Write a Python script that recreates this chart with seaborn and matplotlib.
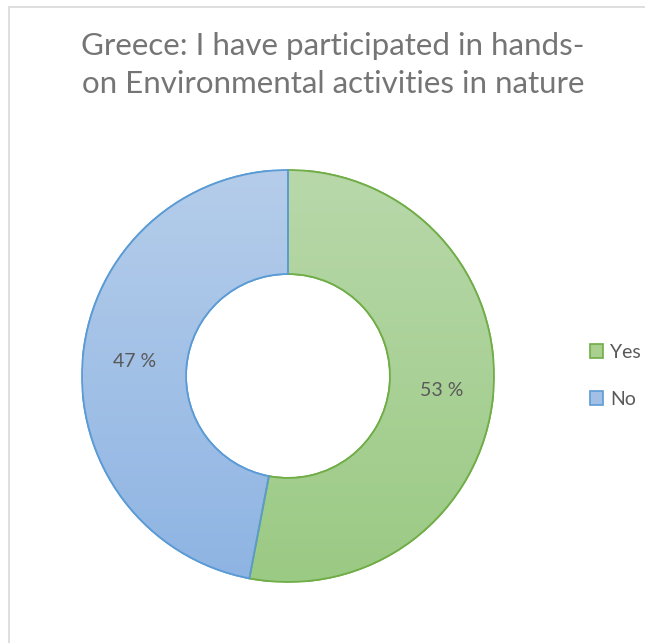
import numpy as np
import matplotlib
matplotlib.use("Agg")
import matplotlib.pyplot as plt
import seaborn as sns
from matplotlib.patches import Rectangle, Patch
import matplotlib.colors as mcolors

sns.set_theme(style="white")
plt.rcParams['font.family'] = ['Lato', 'DejaVu Sans']

title = "Greece: I have participated in hands-\non Environmental activities in nature"
categories = ["Yes", "No"]
values = [53, 47]

edge_colors = ["#70AD47", "#5B9BD5"]
grad_top = ["#B8D8AA", "#B5CDEA"]
grad_bot = ["#9BCA84", "#8EB4E3"]
mid_colors = ["#A9D08E", "#A2C0E6"]

W, H = 645, 643
fig = plt.figure(figsize=(W/100, H/100), dpi=100)
fig.patch.set_facecolor("white")

# chart border
fig.patches.append(Rectangle((9/W, -0.1), 1.2, 1 - 7/H + 0.1, transform=fig.transFigure,
                             fill=False, edgecolor="#D9D9D9", linewidth=1.2))

cx, cy, R = 288, 376, 206
ax = fig.add_axes([(cx-R)/W, (H-cy-R)/H, 2*R/W, 2*R/H])
wedges, texts, autotexts = ax.pie(values, startangle=90, counterclock=False,
                                  colors=mid_colors, autopct=lambda p: f"{p:.0f} %",
                                  pctdistance=0.75, radius=1.0,
                                  wedgeprops=dict(width=0.505, linewidth=1.3),
                                  textprops=dict(fontsize=14, color="#595959"))
for w, ec in zip(wedges, edge_colors):
    w.set_edgecolor(ec)

# gradient fills
for w, top, bot in zip(wedges, grad_top, grad_bot):
    cmap = mcolors.LinearSegmentedColormap.from_list("g", [bot, top])
    grad = np.linspace(0, 1, 256).reshape(-1, 1)
    im = ax.imshow(grad, extent=[-1.0, 1.0, -1.0, 1.0], origin="lower",
                   cmap=cmap, aspect="auto", zorder=w.get_zorder() + 0.1)
    im.set_clip_path(w)
for w, ec in zip(wedges, edge_colors):
    ax.add_patch(matplotlib.patches.Wedge(w.center, w.r, w.theta1, w.theta2, width=w.width,
                                          facecolor="none", edgecolor=ec, linewidth=1.3,
                                          zorder=w.get_zorder() + 0.2))
for t in autotexts:
    t.set_zorder(10)
ax.set_xlim(-1.0, 1.0)
ax.set_ylim(-1.0, 1.0)
ax.set_aspect("equal")
ax.axis("off")

fig.text(333/W, 1 - 65/H, title, ha="center", va="center", fontsize=22.5,
         color="#757575", linespacing=1.4)

handles = [Patch(facecolor=c, edgecolor=e, linewidth=1.2) for c, e in zip(mid_colors, edge_colors)]
fig.legend(handles, categories, loc="center left", bbox_to_anchor=(572/W, 1 - 376/H),
           frameon=False, fontsize=14, labelcolor="#595959", handlelength=0.7,
           handleheight=0.7, handletextpad=0.35, labelspacing=1.55)

fig.savefig("out.png", dpi=100, facecolor="white")
